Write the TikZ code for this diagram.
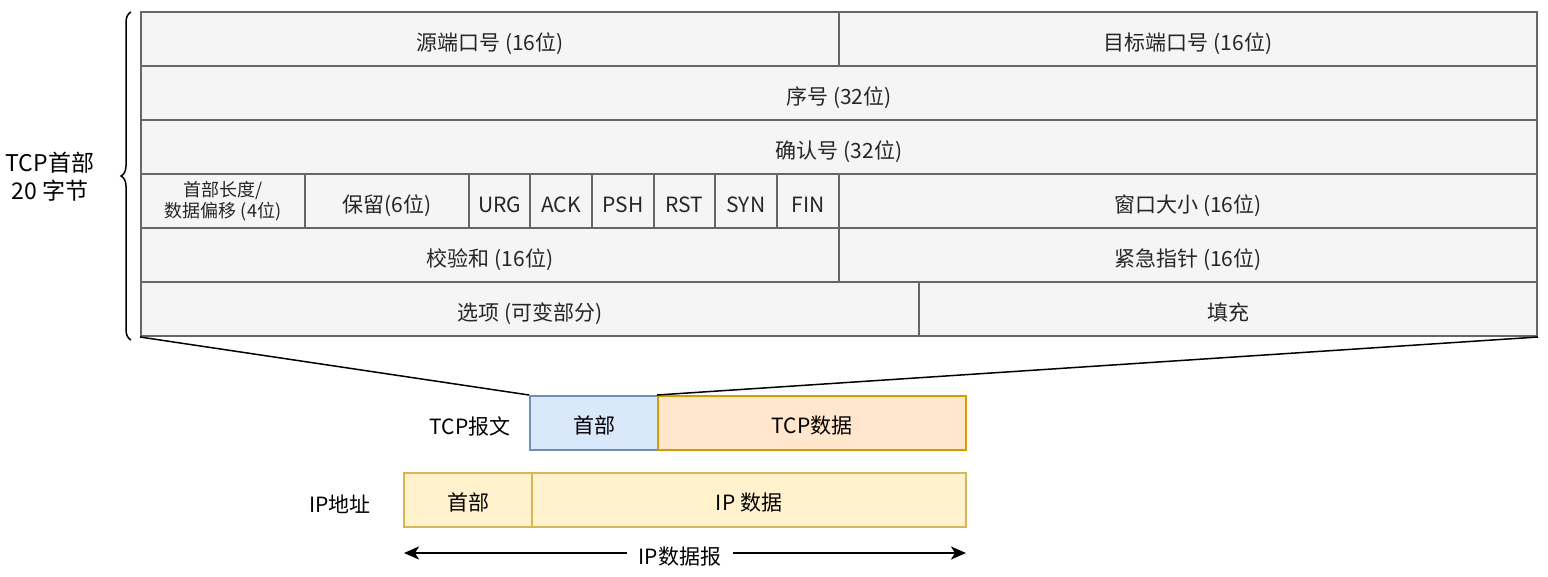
\documentclass[tikz,border=0pt]{standalone}
\usepackage{fontspec}
\setmainfont{Noto Sans CJK SC}
\usetikzlibrary{arrows.meta,decorations.pathreplacing}
\definecolor{cellfill}{HTML}{F5F5F5}
\definecolor{cellline}{HTML}{666666}
\definecolor{bluefill}{HTML}{DAE8FC}
\definecolor{blueline}{HTML}{6C8EBF}
\definecolor{orfill}{HTML}{FFE6CC}
\definecolor{orline}{HTML}{D79B00}
\definecolor{yefill}{HTML}{FFF2CC}
\definecolor{yeline}{HTML}{D6B656}
\tikzset{
  cell/.style={draw=cellline, fill=cellfill, line width=2pt, inner sep=0pt, minimum height=54pt, font=\fontsize{21}{24}\selectfont, text=black!85, text height=22pt, text depth=0pt},
  seg/.style={line width=2pt, inner sep=0pt, minimum height=54pt, font=\fontsize{21}{24}\selectfont, text height=21pt, text depth=0pt},
  lbl/.style={inner sep=0pt, font=\fontsize{21}{24}\selectfont},
  tip/.style={-{Stealth[length=15pt,width=13pt,inset=4pt]}},
}
\begin{document}
\begin{tikzpicture}[x=1pt,y=-1pt]
\useasboundingbox (0,0) rectangle (1548,576);
% row 1
\node[cell, minimum width=698pt] (src) at (490,39) {源端口号 (16位)};
\node[cell, minimum width=698pt] (dst) at (1188,39) {目标端口号 (16位)};
% row 2
\node[cell, minimum width=1396pt] (seq) at (839,93) {序号 (32位)};
% row 3
\node[cell, minimum width=1396pt] (ack) at (839,147) {确认号 (32位)};
% row 4
\node[cell, minimum width=164pt, align=center, text height={}, text depth={}, font=\fontsize{18}{21}\selectfont] (hlen) at (223,201) {首部长度/\\数据偏移 (4位)};
\node[cell, minimum width=164pt] (rsv) at (387,201) {保留(6位)};
\node[cell, minimum width=61pt] (urg) at (499.5,201) {URG};
\node[cell, minimum width=62pt] (ackf) at (561,201) {ACK};
\node[cell, minimum width=62pt] (psh) at (623,201) {PSH};
\node[cell, minimum width=61pt] (rst) at (684.5,201) {RST};
\node[cell, minimum width=62pt] (syn) at (746,201) {SYN};
\node[cell, minimum width=62pt] (fin) at (808,201) {FIN};
\node[cell, minimum width=698pt] (win) at (1188,201) {窗口大小 (16位)};
% row 5
\node[cell, minimum width=698pt] (chk) at (490,255) {校验和 (16位)};
\node[cell, minimum width=698pt] (urgp) at (1188,255) {紧急指针 (16位)};
% row 6
\node[cell, minimum width=778pt] (opt) at (530,309) {选项 (可变部分)};
\node[cell, minimum width=618pt] (pad) at (1228,309) {填充};
% brace and label
\draw[line width=1.5pt, decorate, decoration={brace, amplitude=10pt}] (131,340) -- (131,12);
\node[font=\fontsize{23}{28}\selectfont, align=center] (tcph) at (50,177) {TCP首部\\20 字节};
% TCP segment
\node[seg, draw=blueline, fill=bluefill, minimum width=128pt] (th) at (594,423) {首部};
\node[seg, draw=orline, fill=orfill, minimum width=308pt] (td) at (812,423) {TCP数据};
\node[lbl] (tcpl) at (470,426) {TCP报文};
% IP datagram
\node[seg, draw=yeline, fill=yefill, minimum width=128pt] (ih) at (468,500) {首部};
\node[seg, draw=yeline, fill=yefill, minimum width=434pt] (idata) at (749,500) {IP 数据};
\node[lbl] (ipl) at (340,504) {IP地址};
% connectors
\draw[line width=1.5pt] (opt.south west) -- (th.north west);
\draw[line width=1.5pt] (pad.south east) -- (td.north west);
% arrow
\coordinate (al) at (404,553);
\coordinate (ar) at (966,553);
\node[lbl, fill=white, inner xsep=12pt] (ipd) at (680,557) {IP数据报};
\draw[line width=2pt, tip] (ipd.west |- al) -- (al);
\draw[line width=2pt, tip] (ipd.east |- ar) -- (ar);
\end{tikzpicture}
\end{document}
